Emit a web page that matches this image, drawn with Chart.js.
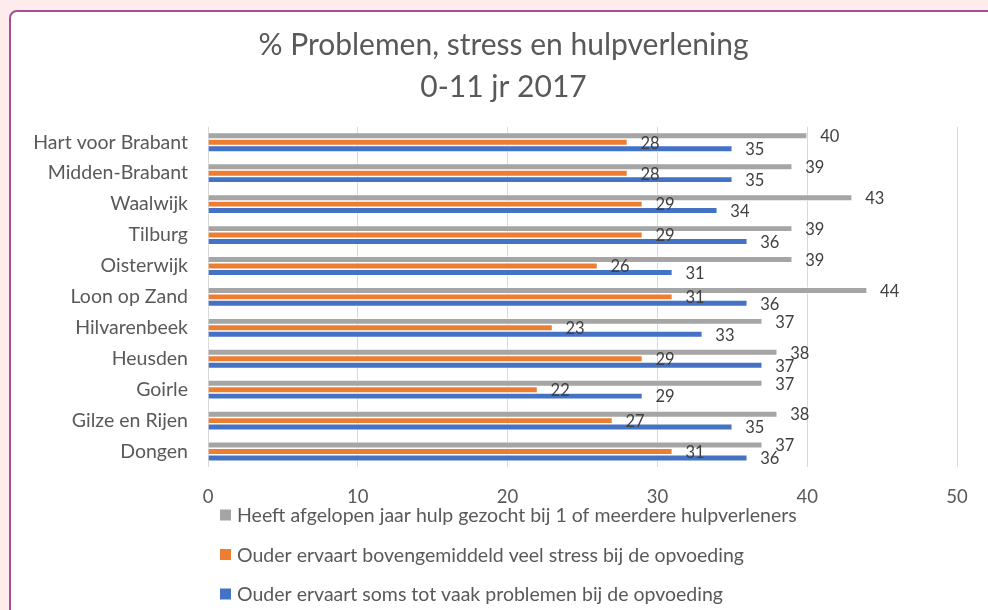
<!DOCTYPE html>
<html>
<head>
<meta charset="utf-8">
<script src="https://cdn.jsdelivr.net/npm/chart.js@4/dist/chart.umd.min.js"></script>
<style>
  html, body { margin: 0; padding: 0; }
  body { width: 988px; height: 610px; overflow: hidden; background: #fdebee; position: relative; }
  .card {
    position: absolute; left: 9px; top: 10px; width: 1000px; height: 700px;
    background: #fff; border: 2px solid #a64d96; border-radius: 8px;
  }
  #chart { position: absolute; left: 0; top: 0; }
</style>
</head>
<body>
<div class="card"></div>
<canvas id="chart" width="988" height="610"></canvas>
<script>
// Gemeenten (van boven naar beneden)
const gemeenten = ['Hart voor Brabant', 'Midden-Brabant', 'Waalwijk', 'Tilburg', 'Oisterwijk',
  'Loon op Zand', 'Hilvarenbeek', 'Heusden', 'Goirle', 'Gilze en Rijen', 'Dongen'];

// Percentages per reeks
const hulpGezocht = [40, 39, 43, 39, 39, 44, 37, 38, 37, 38, 37];
const veelStress  = [28, 28, 29, 29, 26, 31, 23, 29, 22, 27, 31];
const problemen   = [35, 35, 34, 36, 31, 36, 33, 37, 29, 35, 36];

const reeksNamen = [
  'Heeft afgelopen jaar hulp gezocht bij 1 of meerdere hulpverleners',
  'Ouder ervaart bovengemiddeld veel stress bij de opvoeding',
  'Ouder ervaart soms tot vaak problemen bij de opvoeding'
];
const xTicks = [0, 10, 20, 30, 40, 50];

const FONT = 'Lato';
const TEKST = '#595959';
Chart.defaults.font.family = FONT;
Chart.defaults.color = TEKST;

// Titel iets naar rechts, midden van de kaart
const titelMidden = {
  id: 'titelMidden',
  afterLayout(chart) {
    const t = chart.titleBlock;
    t.left += 10;
    t.right += 10;
  }
};

// Waarden achter elke balk zetten
const waardeLabels = {
  id: 'waardeLabels',
  afterDatasetsDraw(chart) {
    const ctx = chart.ctx;
    ctx.save();
    ctx.font = '16.5px ' + FONT;
    ctx.fillStyle = '#404040';
    ctx.textAlign = 'left';
    ctx.textBaseline = 'middle';
    chart.data.datasets.forEach((ds, i) => {
      chart.getDatasetMeta(i).data.forEach((bar, j) => {
        ctx.fillText(ds.data[j], bar.x + 13, bar.y + 1);
      });
    });
    ctx.restore();
  }
};

// Legenda onder de grafiek, items onder elkaar
const legendaOnder = {
  id: 'legendaOnder',
  afterDraw(chart) {
    const ctx = chart.ctx;
    const left = chart.chartArea.left + 12;
    const top = chart.chartArea.bottom + 48;
    ctx.save();
    ctx.font = '19.5px ' + FONT;
    ctx.textAlign = 'left';
    ctx.textBaseline = 'middle';
    chart.data.datasets.forEach((ds, i) => {
      const y = top + i * 39.5;
      ctx.fillStyle = ds.backgroundColor;
      ctx.fillRect(left, y - 5.5, 11, 11);
      ctx.fillStyle = TEKST;
      ctx.fillText(ds.label, left + 17, y + 1);
    });
    ctx.restore();
  }
};

new Chart(document.getElementById('chart').getContext('2d'), {
  type: 'bar',
  data: {
    labels: gemeenten,
    datasets: [
      { label: reeksNamen[0], data: hulpGezocht, backgroundColor: '#a5a5a5' },
      { label: reeksNamen[1], data: veelStress, backgroundColor: '#ed7d31' },
      { label: reeksNamen[2], data: problemen, backgroundColor: '#4472c4' }
    ]
  },
  options: {
    indexAxis: 'y',
    responsive: false,
    animation: false,
    devicePixelRatio: 1,
    layout: { padding: { left: 30, right: 31, top: 0, bottom: 100 } },
    datasets: {
      bar: {
        categoryPercentage: 0.625,
        barPercentage: 1,
        borderColor: '#ffffff',
        borderWidth: 0.75,
        borderSkipped: 'start'
      }
    },
    plugins: {
      legend: { display: false },
      tooltip: { enabled: false },
      title: {
        display: true,
        text: ['% Problemen, stress en hulpverlening', '0-11 jr 2017'],
        color: TEKST,
        font: { size: 30, weight: 'normal', lineHeight: 1.38 },
        padding: { top: 25, bottom: 19 }
      }
    },
    scales: {
      x: {
        min: 0,
        max: 50,
        afterBuildTicks(scale) { scale.ticks = xTicks.map(v => ({ value: v })); },
        afterFit(scale) { scale.height = 43; },
        grid: { color: '#d9d9d9', drawTicks: false },
        border: { display: false },
        ticks: { color: TEKST, font: { size: 18.5 }, padding: 19 }
      },
      y: {
        afterFit(scale) { scale.width = 178; },
        grid: { display: false, drawTicks: false },
        border: { display: false },
        ticks: { color: TEKST, font: { size: 19.5 }, padding: 20 }
      }
    }
  },
  plugins: [titelMidden, waardeLabels, legendaOnder]
});
</script>
</body>
</html>
